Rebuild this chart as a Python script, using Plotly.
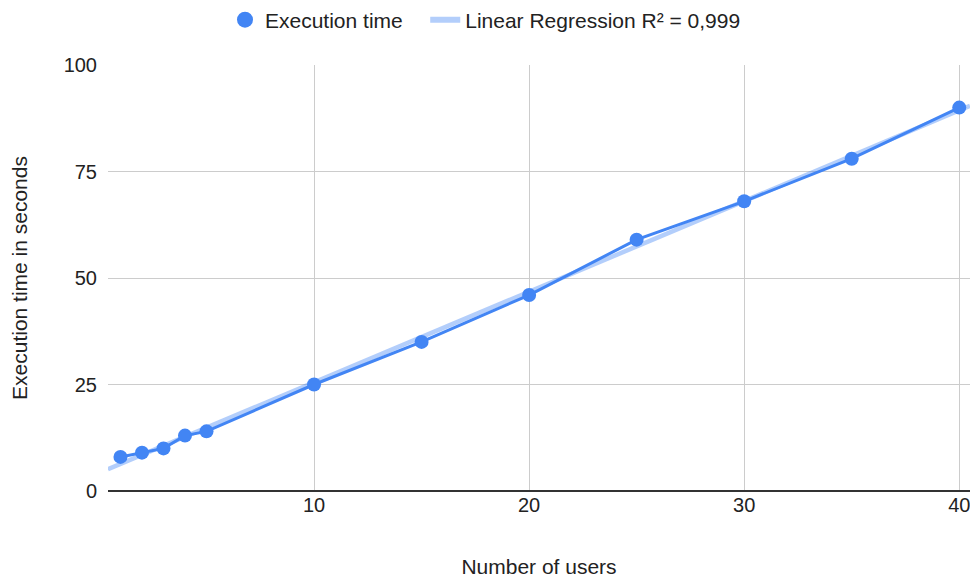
import numpy as np
import plotly.graph_objects as go

users = [1, 2, 3, 4, 5, 10, 15, 20, 25, 30, 35, 40]
exec_time = [8, 9, 10, 13, 14, 25, 35, 46, 59, 68, 78, 90]
y_ticks = [0, 25, 50, 75, 100]
x_ticks = [10, 20, 30, 40]
x_range = [0.42, 40.5]

slope, intercept = np.polyfit(users, exec_time, 1)
fit_x = np.array(x_range)
fit_y = slope * fit_x + intercept

blue = "#4285F4"
trend = "rgba(66,133,244,0.4)"
font = "Arial, 'Liberation Sans', sans-serif"
txt = "#222222"

fig = go.Figure()
fig.add_trace(go.Scatter(
    x=fit_x, y=fit_y, mode="lines",
    line=dict(color=trend, width=4.5),
    name="Linear Regression R² = 0,999", showlegend=False,
))
fig.add_trace(go.Scatter(
    x=users, y=exec_time, mode="lines+markers",
    line=dict(color=blue, width=3),
    marker=dict(color=blue, size=14),
    name="Execution time", showlegend=False,
))
# legend entries (non-breaking spaces widen the gap between entries)
fig.add_trace(go.Scatter(
    x=[None], y=[None], mode="markers",
    marker=dict(color=blue, size=20),
    name="Execution time\u00a0\u00a0\u00a0",
))
fig.add_trace(go.Scatter(
    x=[None], y=[None], mode="lines",
    line=dict(color=trend, width=6),
    name="Linear Regression R² = 0,999",
))

# page body has an 8px margin, so the figure is sized/positioned to compensate
fig.update_layout(
    width=970, height=573,
    margin=dict(l=100, r=8, t=57, b=90),
    paper_bgcolor="white", plot_bgcolor="white",
    font=dict(family=font, size=20, color=txt),
    showlegend=True,
    legend=dict(orientation="h", xref="container", yref="container",
                x=217 / 970, xanchor="left", y=0.979, yanchor="middle",
                font=dict(size=21, color=txt),
                itemwidth=30, traceorder="normal"),
    xaxis=dict(
        range=x_range, tickvals=x_ticks, showgrid=True, gridcolor="#cccccc",
        gridwidth=1, zeroline=False, showline=False, ticks="",
        automargin=False,
        title=dict(text="Number of users", standoff=44,
                   font=dict(size=21, color=txt)),
        tickfont=dict(size=20, color=txt),
    ),
    yaxis=dict(
        range=[0, 100], tickvals=y_ticks, showgrid=True, gridcolor="#cccccc",
        gridwidth=1, zeroline=True, zerolinecolor="#333333", zerolinewidth=1.5,
        showline=False, ticks="", ticklabelstandoff=10, automargin=False,
        title=dict(text="Execution time in seconds", standoff=34,
                   font=dict(size=21, color=txt)),
        tickfont=dict(size=20, color=txt),
    ),
)

fig.write_html("out.html")
